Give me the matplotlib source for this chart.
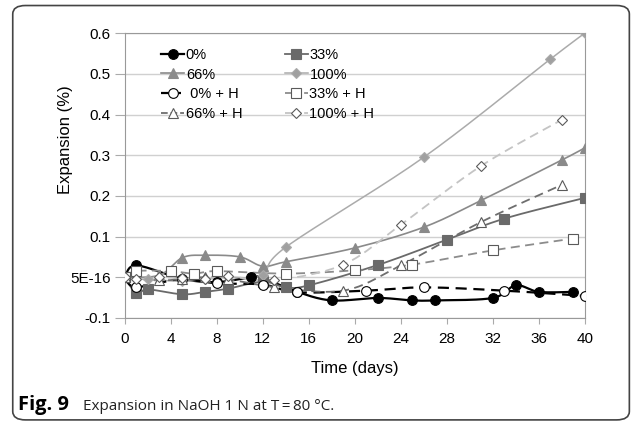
# Expansion in NaOH 1 N at T = 80 C
import matplotlib
matplotlib.use('Agg')
import matplotlib.pyplot as plt
from matplotlib.patches import FancyBboxPatch
from matplotlib.lines import Line2D
import numpy as np

plt.rcParams['font.family'] = ['Liberation Sans', 'DejaVu Sans']

# Data (days, expansion %)
d_0 = [0, 1, 5, 8, 11, 12, 15, 18, 22, 25, 27, 32, 34, 36, 39]
e_0 = [0.0, 0.029, -0.004, -0.012, 0.0, -0.002, -0.036, -0.057, -0.051, -0.057, -0.057, -0.051, -0.02, -0.036, -0.036]

d_33 = [0, 1, 2, 5, 7, 9, 12, 14, 16, 22, 28, 33, 40]
e_33 = [0.0, -0.04, -0.03, -0.042, -0.036, -0.028, -0.011, -0.025, -0.02, 0.030, 0.092, 0.144, 0.195]

d_66 = [0, 3, 5, 7, 10, 12, 14, 20, 26, 31, 38, 40]
e_66 = [0.0, 0.005, 0.048, 0.054, 0.05, 0.027, 0.038, 0.072, 0.123, 0.189, 0.288, 0.318]

d_100 = [0, 2, 5, 7, 9, 12, 14, 26, 37, 40]
e_100 = [0.0, -0.005, -0.01, -0.005, 0.0, 0.005, 0.074, 0.295, 0.536, 0.6]

d_0h = [0, 1, 5, 8, 12, 15, 21, 26, 33, 40]
e_0h = [0.0, -0.024, -0.004, -0.015, -0.018, -0.037, -0.033, -0.025, -0.033, -0.046]

d_33h = [0, 1, 4, 6, 8, 14, 20, 25, 32, 39]
e_33h = [0.0, 0.015, 0.015, 0.009, 0.015, 0.009, 0.017, 0.031, 0.066, 0.095]

d_66h = [0, 3, 5, 7, 9, 13, 19, 24, 31, 38]
e_66h = [0.0, -0.008, -0.004, 0.0, -0.005, -0.024, -0.033, 0.029, 0.136, 0.227]

d_100h = [0, 1, 3, 5, 7, 9, 13, 19, 24, 31, 38]
e_100h = [0.0, -0.005, 0.0, -0.003, -0.004, 0.002, -0.007, 0.031, 0.129, 0.274, 0.387]

y_ticks = [-0.1, 0.0, 0.1, 0.2, 0.3, 0.4, 0.5, 0.6]
y_labels = ['-0.1', '5E-16', '0.1', '0.2', '0.3', '0.4', '0.5', '0.6']
x_ticks = list(range(0, 41, 4))


def smooth(x, y, n=20):
    # Catmull-Rom curve through the points, like Excel's smoothed lines
    x = np.asarray(x, float)
    y = np.asarray(y, float)
    px = np.concatenate([[x[0]], x, [x[-1]]])
    py = np.concatenate([[y[0]], y, [y[-1]]])
    xs, ys = [], []
    for i in range(1, len(px) - 2):
        t = np.linspace(0, 1, n)
        for p, out in ((px, xs), (py, ys)):
            p0, p1, p2, p3 = p[i - 1], p[i], p[i + 1], p[i + 2]
            out.extend(0.5 * ((2 * p1) + (-p0 + p2) * t
                              + (2 * p0 - 5 * p1 + 4 * p2 - p3) * t ** 2
                              + (-p0 + 3 * p1 - 3 * p2 + p3) * t ** 3))
    return xs, ys


series = [
    (d_0, e_0, '0%', 'black', '-', 'o', 'black', 1.6),
    (d_33, e_33, '33%', '#6a6a6a', '-', 's', '#6a6a6a', 1.3),
    (d_66, e_66, '66%', '#8a8a8a', '-', '^', '#8a8a8a', 1.2),
    (d_100, e_100, '100%', '#ababab', '-', 'D', '#a0a0a0', 1.1),
    (d_0h, e_0h, ' 0% + H', 'black', '--', 'o', 'white', 1.6),
    (d_33h, e_33h, '33% + H', '#8c8c8c', '--', 's', 'white', 1.3),
    (d_66h, e_66h, '66% + H', '#6e6e6e', '--', '^', 'white', 1.3),
    (d_100h, e_100h, '100% + H', '#c4c4c4', '--', 'D', 'white', 1.3),
]

fig = plt.figure(figsize=(6.37, 4.25), dpi=100)
ax = fig.add_axes([0.196, 0.252, 0.722, 0.670])

handles = []
for d, e, name, col, ls, mk, fc, lw in series:
    sx, sy = smooth(d, e)
    ax.plot(sx, sy, color=col, ls=ls, lw=lw, dashes=(5, 3) if ls == '--' else (None, None), zorder=2)
    ms = 7 if mk != 'D' else 5
    mec = '#5a5a5a' if fc == 'white' and col != 'black' else col
    ax.plot(d, e, ls='none', marker=mk, ms=ms, mfc=fc, mec=mec, mew=0.8, zorder=3)
    handles.append(Line2D([0], [0], color=col, ls=ls, lw=lw, marker=mk, ms=ms,
                          mfc=fc, mec=mec, mew=0.8, label=name))

ax.set_xlim(0, 40)
ax.set_ylim(-0.1, 0.6)
ax.set_xticks(x_ticks)
ax.set_yticks(y_ticks)
ax.set_yticklabels(y_labels)
ax.tick_params(axis='y', labelsize=11, length=7, color='#aaaaaa', pad=3)
ax.tick_params(axis='x', labelsize=11, length=4, color='#aaaaaa', pad=6)
ax.yaxis.grid(True, color='#d0d0d0', lw=1)
ax.set_axisbelow(True)
for s in ax.spines.values():
    s.set_color('#999999')

ax.set_xlabel('Time (days)', fontsize=12, labelpad=11)
ax.set_ylabel('Expansion (%)', fontsize=12)
ax.yaxis.set_label_coords(-0.113, 0.625)

order = [0, 2, 4, 6, 1, 3, 5, 7]
leg = ax.legend([handles[i] for i in order], [handles[i].get_label() for i in order],
                ncol=2, loc='upper left', bbox_to_anchor=(0.05, 0.995), frameon=False,
                fontsize=10.5, handlelength=1.6, handletextpad=0.1, columnspacing=2.9,
                labelspacing=0.4)

# caption and rounded frame
fig.patches.append(FancyBboxPatch((0.02, 0.012), 0.968, 0.975, transform=fig.transFigure,
                                  boxstyle='round,pad=0,rounding_size=0.02',
                                  fc='none', ec='#444444', lw=1.2))
fig.text(0.028, 0.036, 'Fig. 9', fontsize=14.5, fontweight='bold', family='Open Sans')
fig.text(0.13, 0.036, 'Expansion in NaOH 1 N at T\u2009=\u200980 \u00b0C.', fontsize=11,
         family=['Open Sans', 'DejaVu Sans'], color='#222222')

fig.savefig('out.png', dpi=100)
